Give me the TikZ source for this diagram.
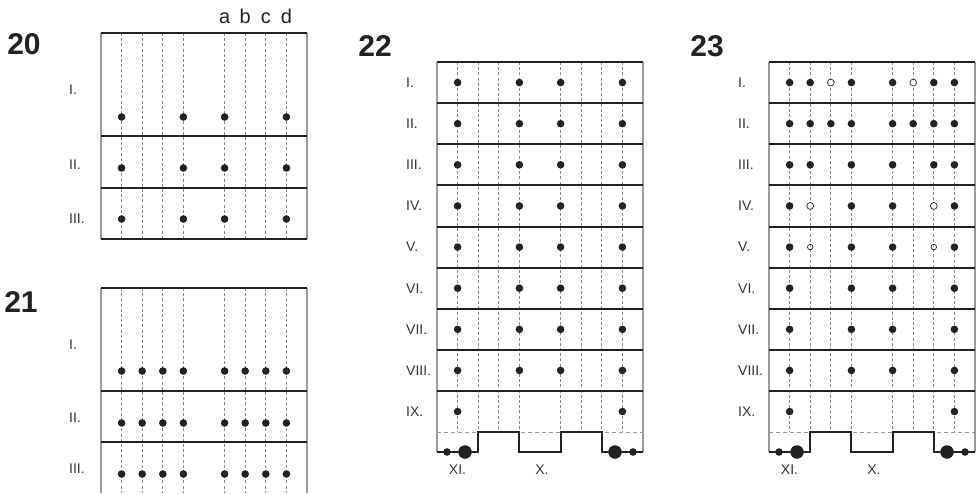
\documentclass[tikz,border=0pt]{standalone}
\usepackage{fontspec}
\setmainfont{Liberation Sans}
\definecolor{inkdark}{HTML}{222222}
\definecolor{framegray}{HTML}{9A9A9A}
\definecolor{guidegray}{HTML}{8A8A8A}
\definecolor{labelgray}{HTML}{333333}
\tikzset{
  rowline/.style={draw=inkdark, line width=2pt},
  frameline/.style={draw=framegray, line width=1.1pt},
  guide/.style={draw=guidegray, line width=0.7pt, dash pattern=on 3pt off 2.2pt},
  baseguide/.style={draw=framegray, line width=0.8pt, dash pattern=on 4pt off 3pt},
  dot/.style={circle, fill=inkdark, inner sep=0pt, minimum size=7.6pt},
  bigdot/.style={dot, minimum size=13.5pt},
  hole/.style={circle, draw=inkdark, fill=white, line width=0.7pt, inner sep=0pt, minimum size=6.8pt},
  rowlabel/.style={anchor=west, text=labelgray, inner sep=0pt, font=\fontsize{14}{16}\selectfont},
  collabel/.style={anchor=base, text=inkdark, inner sep=0pt, font=\fontsize{20}{22}\selectfont},
  panelnum/.style={text=inkdark, inner sep=0pt, font=\fontsize{30}{32}\selectfont\bfseries},
}
\begin{document}
\begin{tikzpicture}[x=1pt, y=-1pt]
    \useasboundingbox (0,0) rectangle (976,493);
    % Panel 20
    \node[panelnum] (n20) at (24,44) {20};
    \foreach \c in {1,2,3,4,6,7,8,9}
        \draw[guide] (101+20.6*\c,33) -- (101+20.6*\c,239);
    \draw[frameline] (101,33) -- (101,239) (307,33) -- (307,239);
    \foreach \y in {33,136,188,239}
        \draw[rowline] (101,\y) -- (307,\y);
    \foreach \y [count=\r] in {117,168,219}
        \foreach \c in {1,4,6,9}
            \node[dot] (p20-\r-\c) at (101+20.6*\c,\y) {};
    \node[rowlabel] (l20-1) at (69,90) {I.};
    \node[rowlabel] (l20-2) at (69,165) {II.};
    \node[rowlabel] (l20-3) at (69,219) {III.};
    \foreach \t [count=\i from 6] in {a,b,c,d}
        \node[collabel] (h-\t) at (101+20.6*\i,23) {\t};

    % Panel 21
    \node[panelnum] (n21) at (21,302) {21};
    \foreach \c in {1,2,3,4,6,7,8,9}
        \draw[guide] (101+20.6*\c,288) -- (101+20.6*\c,493);
    \draw[frameline] (101,288) -- (101,493) (307,288) -- (307,493);
    \foreach \y in {288,391,442}
        \draw[rowline] (101,\y) -- (307,\y);
    \foreach \y [count=\r] in {371,423,474}
        \foreach \c in {1,2,3,4,6,7,8,9}
            \node[dot] (p21-\r-\c) at (101+20.6*\c,\y) {};
    \node[rowlabel] (l21-1) at (69,345) {I.};
    \node[rowlabel] (l21-2) at (69,418) {II.};
    \node[rowlabel] (l21-3) at (69,469) {III.};

    % Panels 22 and 23: grid, wave and labels
    \foreach \L/\n in {437/22,769/23} {
        \node[panelnum] (n\n) at (\L-62,46) {\n};
        \foreach \c in {1,2,3,4,6,7,8,9}
            \draw[guide] (\L+20.6*\c,62) -- (\L+20.6*\c,432.1);
        \draw[baseguide] (\L,432.1) -- (\L+206,432.1);
        \draw[frameline] (\L,62) -- (\L,452) (\L+206,62) -- (\L+206,452);
        \foreach \k in {0,...,8}
            \draw[rowline] (\L,62+41.125*\k) -- (\L+206,62+41.125*\k);
        \foreach \t [count=\k] in {I.,II.,III.,IV.,V.,VI.,VII.,VIII.,IX.}
            \node[rowlabel] (l\n-\k) at (\L-31,62+41.125*\k-20.56) {\t};
        % wave
        \draw[rowline] (\L,452) -| (\L+41.2,432.1) -| (\L+82.4,452)
            -| (\L+123.6,432.1) -| (\L+164.8,452) -- (\L+206,452);
        \node[dot] (s\n-l) at (\L+10,452) {};
        \node[bigdot] (b\n-l) at (\L+28,452) {};
        \node[bigdot] (b\n-r) at (\L+178,452) {};
        \node[dot] (s\n-r) at (\L+196,452) {};
        \node[rowlabel, anchor=center] (xi\n) at (\L+20.5,470) {XI.};
        \node[rowlabel, anchor=center] (x\n) at (\L+105,470) {X.};
    }

    % Panel 22 dots
    \foreach \k in {1,...,8}
        \foreach \c in {1,4,6,9}
            \node[dot] (p22-\k-\c) at (437+20.6*\c,62+41.125*\k-20.56) {};
    \foreach \c in {1,9}
        \node[dot] (p22-9-\c) at (437+20.6*\c,411.5) {};

    % Panel 23 dots
    \foreach \k/\cols in {1/{1,2,4,6,8,9}, 2/{1,2,3,4,6,7,8,9}, 3/{1,2,4,6,8,9},
                          4/{1,4,6,9}, 5/{1,4,6,9}, 6/{1,4,6,9}, 7/{1,4,6,9},
                          8/{1,4,6,9}, 9/{1,9}}
        \foreach \c in \cols
            \node[dot] (p23-\k-\c) at (769+20.6*\c,62+41.125*\k-20.56) {};
    \foreach \k/\c in {1/3,1/7,4/2,4/8}
        \node[hole] (o23-\k-\c) at (769+20.6*\c,62+41.125*\k-20.56) {};
    \foreach \c in {2,8}
        \node[hole, fill=none, minimum size=5.5pt] (o23-5-\c) at (769+20.6*\c,226.5+20.56) {};
\end{tikzpicture}
\end{document}
